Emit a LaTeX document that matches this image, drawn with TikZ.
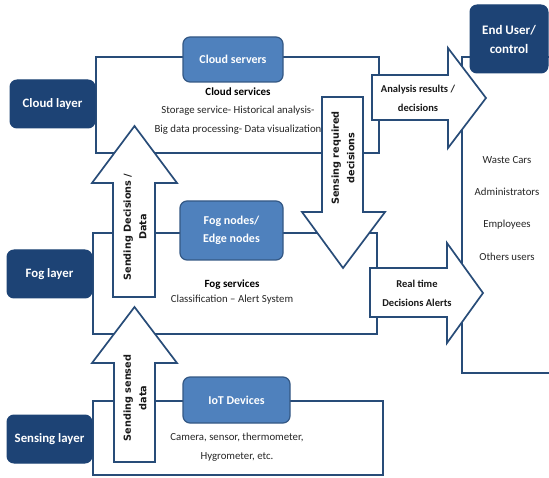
\documentclass[tikz,border=0pt]{standalone}
\usepackage{fontspec}
\setmainfont{Carlito}
\newfontfamily\arrowfont{DejaVu Sans}
\definecolor{layerblue}{RGB}{29,67,117}
\definecolor{unitblue}{RGB}{79,129,189}
\definecolor{unitedge}{RGB}{52,88,132}
\definecolor{frameblue}{RGB}{40,76,120}
\begin{document}
\begin{tikzpicture}[x=1pt,y=-1pt,
  layerbox/.style={draw=layerblue,fill=layerblue,rounded corners=7pt,text=white,
    font=\bfseries\fontsize{12.8}{15}\selectfont,align=center,line width=1pt},
  unitbox/.style={draw=unitedge,fill=unitblue,rounded corners=7pt,text=white,
    font=\bfseries\fontsize{12}{16}\selectfont,align=center,line width=1.2pt},
  frame/.style={draw=frameblue,line width=1.7pt},
  fatarrow/.style={draw=frameblue,fill=white,line width=1.7pt,line join=miter},
  plain/.style={font=\fontsize{10.8}{19}\selectfont,align=center,text=black!85},
  head/.style={font=\bfseries\fontsize{11}{12}\selectfont,text=black},
  arrowtxt/.style={font=\bfseries\fontsize{10.5}{19}\selectfont,align=center,text=black!90},
  risetxt/.style={font=\arrowfont\bfseries\fontsize{9.7}{15.5}\selectfont,align=center,rotate=90,text=black!90}]
\useasboundingbox (0,0) rectangle (549,478);
\clip (0,0) rectangle (549,478);

% layer frames
\draw[frame] (96,57) rectangle (379,153);
\draw[frame] (93,233) rectangle (377,334);
\draw[frame] (93,401) rectangle (383,475);
\draw[frame] (560,57) -- (462,57) -- (462,373) -- (560,373);

% block arrows between the layers
\draw[fatarrow] (113,297) -- (113,183) -- (92,183) -- (134.5,126) -- (177,183) -- (155,183) -- (155,297) -- cycle;
\draw[fatarrow] (114,462) -- (114,363) -- (92,363) -- (134.5,307) -- (177,363) -- (155,363) -- (155,462) -- cycle;
\draw[fatarrow] (322,97) -- (322,212) -- (302,212) -- (343,268) -- (385,212) -- (363,212) -- (363,97) -- cycle;
\draw[fatarrow] (372,75) -- (448,75) -- (448,48) -- (486,98) -- (448,148) -- (448,120) -- (372,120) -- cycle;
\draw[fatarrow] (370,268) -- (447,268) -- (447,243) -- (483,293) -- (447,343) -- (447,317) -- (370,317) -- cycle;

% arrow labels
\node[risetxt] (up1) at (135,227) {Sending Decisions /\\Data};
\node[risetxt] (up2) at (135,398) {Sending sensed\\data};
\node[risetxt] (down1) at (343,158) {Sensing required\\decisions};
\node[arrowtxt] (res) at (418,98) {Analysis results /\\decisions};
\node[arrowtxt] (alert) at (417,293) {Real time\\Decisions Alerts};

% layer boxes
\node[layerbox,minimum width=85pt,minimum height=48pt] (cloudl) at (52.5,104) {Cloud layer};
\node[layerbox,minimum width=85pt,minimum height=48pt] (fogl) at (49.5,274) {Fog layer};
\node[layerbox,minimum width=85pt,minimum height=48pt] (sensl) at (49.5,439) {Sensing layer};
\node[layerbox,minimum width=78pt,minimum height=68pt,font=\bfseries\fontsize{13}{19}\selectfont] (user) at (509,39) {End User/\\control};

% unit boxes
\node[unitbox,minimum width=100pt,minimum height=45pt] (srv) at (233,59.5) {Cloud servers};
\node[unitbox,minimum width=103pt,minimum height=59pt,font=\bfseries\fontsize{12}{18}\selectfont] (fogn) at (231.5,230.5) {Fog nodes/\\Edge nodes};
\node[unitbox,minimum width=107pt,minimum height=46pt] (iot) at (236.5,400) {IoT Devices};

% service texts
\node[head] (cs) at (238,92) {Cloud services};
\node[plain] (csl) at (238,120.5) {Storage service- Historical analysis-\\Big data processing- Data visualization};
\node[head] (fs) at (232,285) {Fog services};
\node[plain] (fsl) at (232,300) {Classification -- Alert System};
\node[plain] (iotl) at (237,447.5) {Camera, sensor, thermometer,\\Hygrometer, etc.};

% end users
\node[plain] (u1) at (507,160) {Waste Cars};
\node[plain] (u2) at (507,192) {Administrators};
\node[plain] (u3) at (507,225) {Employees};
\node[plain] (u4) at (507,257) {Others users};
\end{tikzpicture}
\end{document}
